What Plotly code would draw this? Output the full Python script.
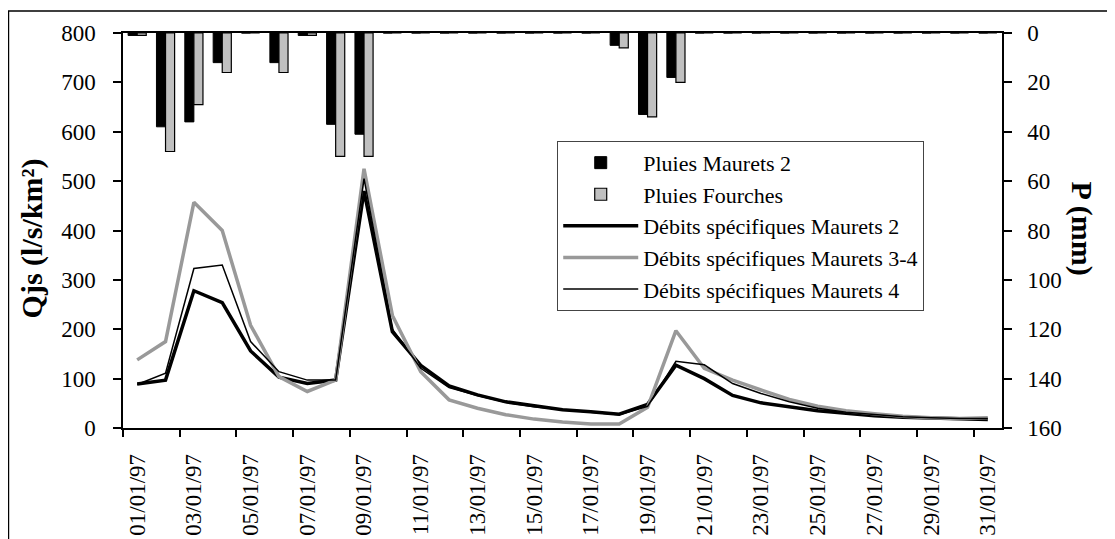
import plotly.graph_objects as go

dates = ["%02d/01/97" % d for d in range(1, 32)]

pluies_maurets2 = [1, 38, 36, 12, 0, 12, 1, 37, 41, 0, 0, 0, 0, 0, 0, 0, 0, 5, 33, 18,
                   0, 0, 0, 0, 0, 0, 0, 0, 0, 0, 0]
pluies_fourches = [1, 48, 29, 16, 0, 16, 1, 50, 50, 0, 0, 0, 0, 0, 0, 0, 0, 6, 34, 20,
                   0, 0, 0, 0, 0, 0, 0, 0, 0, 0, 0]

q_maurets2 = [89, 97, 278, 254, 156, 103, 90, 97, 480, 195, 127, 85, 67, 53, 45, 37,
              33, 28, 48, 127, 100, 66, 51, 43, 35, 30, 25, 22, 20, 18, 17]
q_maurets34 = [138, 175, 457, 400, 208, 104, 74, 97, 525, 228, 114, 57, 40, 27, 18, 12,
               8, 8, 42, 197, 121, 97, 77, 58, 44, 35, 29, 24, 21, 19, 21]
q_maurets4 = [88, 111, 323, 330, 175, 114, 97, 97, 505, 200, 121, 82, 66, 52, 43, 37,
              32, 27, 44, 135, 128, 90, 70, 53, 40, 32, 27, 23, 21, 19, 19]

x = list(range(len(dates)))
label_idx = x[::2]
label_txt = [dates[i] for i in label_idx]
bound_idx = [i - 0.5 for i in label_idx]

FONT = "Liberation Serif"

fig = go.Figure()
fig.add_trace(go.Bar(x=x, y=pluies_maurets2, name="Pluies Maurets 2", yaxis="y2",
                     marker=dict(color="black", line=dict(color="black", width=1))))
fig.add_trace(go.Bar(x=x, y=pluies_fourches, name="Pluies Fourches", yaxis="y2",
                     marker=dict(color="#c0c0c0", line=dict(color="black", width=1.2))))
fig.add_trace(go.Scatter(x=x, y=q_maurets2, name="Débits spécifiques Maurets 2",
                         mode="lines", line=dict(color="black", width=3.5)))
fig.add_trace(go.Scatter(x=x, y=q_maurets34, name="Débits spécifiques Maurets 3-4",
                         mode="lines", line=dict(color="#999999", width=3.5)))
fig.add_trace(go.Scatter(x=x, y=q_maurets4, name="Débits spécifiques Maurets 4",
                         mode="lines", line=dict(color="black", width=1.5)))

fig.update_layout(
    template="none",
    width=1107, height=531,
    margin=dict(l=115, r=113, t=25, b=111, autoexpand=False),
    paper_bgcolor="white", plot_bgcolor="white",
    font=dict(family=FONT, size=23, color="black"),
    barmode="group", bargap=0.36, bargroupgap=0,
    showlegend=True,
    legend=dict(x=0.494, y=0.727, xanchor="left", yanchor="top",
                bgcolor="white", bordercolor="#444444", borderwidth=1,
                font=dict(family=FONT, size=22, color="black"), itemwidth=75,
                tracegroupgap=0, traceorder="normal"),
    xaxis=dict(range=[-0.5, 30.5], tickmode="array", tickvals=label_idx,
               ticktext=label_txt, tickangle=-90, ticks="outside", ticklen=7,
               tickcolor="rgba(0,0,0,0)", showline=True, linecolor="black",
               linewidth=1.5, mirror=True, showgrid=False, zeroline=False,
               automargin=False, ticklabelstandoff=8,
               tickfont=dict(family=FONT, size=23),
               minor=dict(tickmode="array", tickvals=bound_idx, ticks="outside",
                          ticklen=7, tickcolor="black", tickwidth=1.5,
                          showgrid=False)),
    yaxis=dict(range=[0, 800], dtick=100, ticks="outside", ticklen=8,
               tickwidth=1.5, tickcolor="black", showline=True, linecolor="black",
               linewidth=1.5, showgrid=False, zeroline=False, automargin=False,
               ticklabelstandoff=13, tickfont=dict(family=FONT, size=23)),
    yaxis2=dict(range=[160, 0], dtick=20, overlaying="y", side="right",
                ticks="outside", ticklen=8, tickwidth=1.5, tickcolor="black",
                showline=True, linecolor="black", linewidth=1.5, showgrid=False,
                zeroline=False, automargin=False, ticklabelstandoff=11,
                tickfont=dict(family=FONT, size=23)),
    annotations=[
        dict(text="<b>Qjs (l/s/km²)</b>", xref="paper", yref="paper",
             x=-0.1035, y=0.48, textangle=-90, showarrow=False,
             font=dict(family=FONT, size=30, color="black"),
             xanchor="center", yanchor="middle"),
        dict(text="<b>P (mm)</b>", xref="paper", yref="paper",
             x=1.091, y=0.505, textangle=90, showarrow=False,
             font=dict(family=FONT, size=30, color="black"),
             xanchor="center", yanchor="middle"),
    ],
    shapes=[
        dict(type="rect", xref="paper", yref="paper", x0=-0.1303, x1=1.1251,
             y0=-0.35, y1=1.0557, line=dict(color="black", width=1.5),
             fillcolor="rgba(0,0,0,0)", layer="below"),
    ],
)

fig.write_html("out.html")
